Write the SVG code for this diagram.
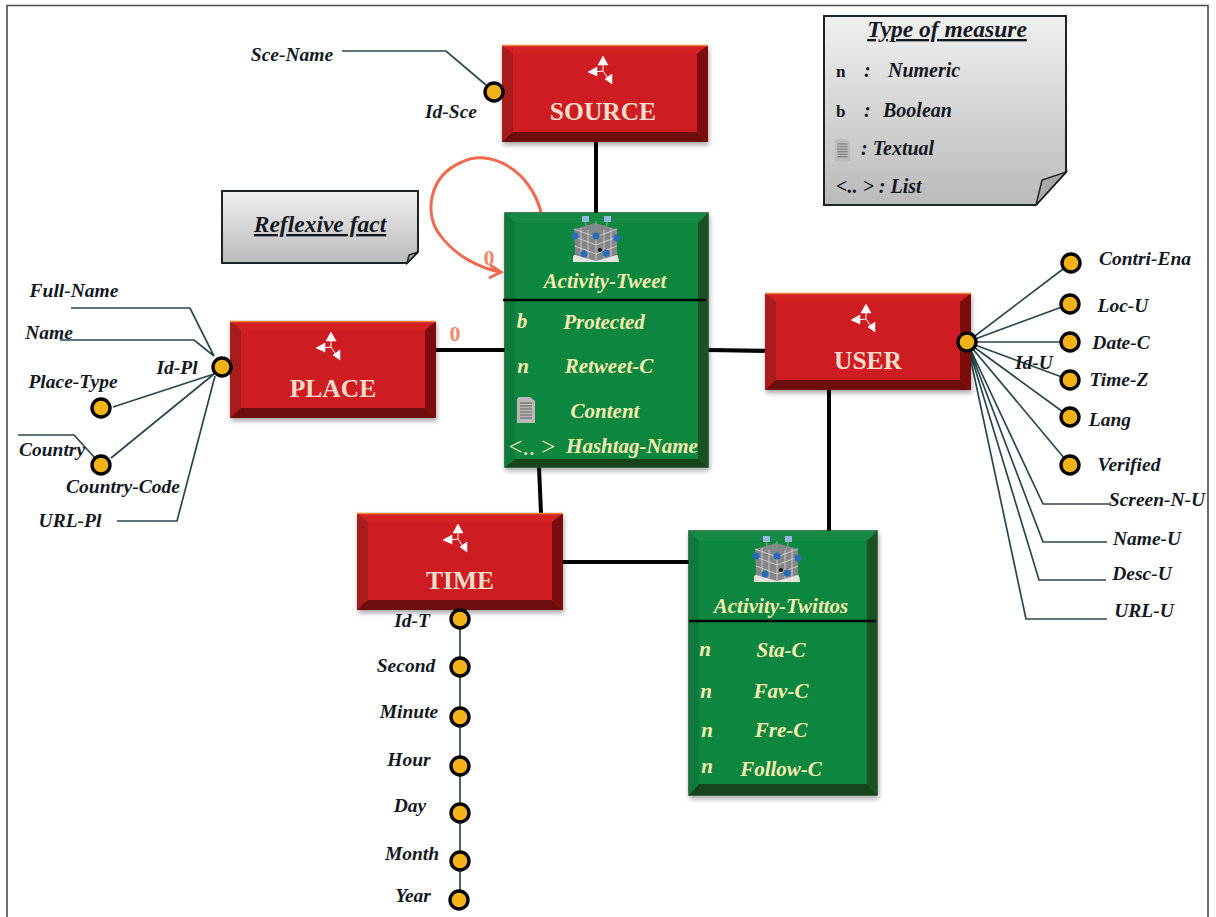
<svg xmlns="http://www.w3.org/2000/svg" width="1216" height="917" viewBox="0 0 1216 917">
<style>
text{font-family:"Liberation Serif","Times New Roman",serif;font-weight:bold;font-style:italic;text-anchor:middle}
.lb{font-size:19.5px;fill:#14191f}
.gt{font-size:21px;fill:#f6ecaf}
.ti{font-size:25.500px;font-style:normal;fill:#f5dccb}
.lg{font-size:20px;fill:#14191f;text-anchor:start}
.hd{font-size:23.500px;fill:#14191f;text-decoration:underline}
.zero{font-size:22px;font-style:normal;fill:#f0866a}
.thin{fill:none;stroke:#27474f;stroke-width:1.7}
.heavy{fill:none;stroke:#050505;stroke-width:4}
.c{fill:#f3b318;stroke:#050505;stroke-width:3.4}
.note{fill:url(#ng);stroke:#1e2426;stroke-width:2}
.fold{fill:#a9a9a9;stroke:#1e2426;stroke-width:1.5}
</style>
<defs>
<linearGradient id="ng" x1="0" y1="0" x2="0" y2="1"><stop offset="0" stop-color="#f0f0f0"/><stop offset="1" stop-color="#bababa"/></linearGradient>
<filter id="sh" x="-5%" y="-5%" width="112%" height="112%"><feDropShadow dx="1" dy="3" stdDeviation="2.5" flood-color="#000" flood-opacity=".35"/></filter>
<g id="axes" fill="#fff" stroke="#fff">
<path d="M0 0V-8M0 0L-9 1M0 0L6 9" fill="none" stroke-width="1"/>
<path d="M0-15L5-6H-5Z" stroke-width=".5"/>
<path d="M-15 1L-6-4V5Z" stroke-width=".5"/>
<path d="M9 13L2 8 9 3Z" stroke-width=".5"/>
</g>
<g id="red" filter="url(#sh)">
<rect width="206" height="97" fill="#cd1f24"/>
<path d="M0 0H206L195 9H11Z" fill="#d32023"/>
<path d="M0 0L11 9V87L0 97Z" fill="#a81a1e"/>
<path d="M206 0L195 9V87L206 97Z" fill="#7b1111"/>
<path d="M0 97L11 87H195L206 97Z" fill="#6e0c0c"/>
<path d="M0 .5H206" stroke="#f0853a" stroke-width="1.5"/>
<use href="#axes" x="101" y="26"/>
</g>
<g id="cube">
<path d="M1 40Q8 34 16 35H40Q47 37 47 46H1Z" fill="#e3e3df"/>
<path d="M2 13L23 7 45 13V39L24 45 3 39Z" fill="#85858a"/>
<path d="M2 13L24 21 45 13M24 21V45M3 21L24 29 45 21M3 30L24 38 45 30M9 12V41M16 14V43M32 14V43M39 12V41" fill="none" stroke="#c9c9c9" stroke-width="1"/>
<path d="M14 12L13 3M24 14V5M34 12L36 3" stroke="#6fa36f" stroke-width="1.5"/>
<rect x="10" y="0" width="7" height="6" fill="#8fb8dc"/><rect x="32" y="0" width="7" height="6" fill="#8fb8dc"/>
<g fill="#2a6db5"><circle cx="3" cy="20" r="3.6"/><circle cx="45" cy="22" r="3.6"/><circle cx="24" cy="20" r="3.6"/><circle cx="12" cy="38" r="3.6"/><circle cx="34" cy="37" r="3.6"/></g>
<circle cx="28" cy="34" r="2" fill="#111"/>
</g>
<g id="doc">
<path d="M3 0H14L19 4V26H1V2Z" fill="#b9bab7"/>
<path d="M4 6H16M4 9H16M4 12H16M4 15H16M4 18H16M4 21H16" stroke="#5d5f5f" stroke-width="1.2"/>
</g>
</defs>
<rect width="1216" height="917" fill="#fff"/>
<path d="M7 917V5.500H1208V917" fill="none" stroke="#4a4a4a" stroke-width="1.600"/>

<g id="connectors">
<path class="heavy" d="M596 142V213M436 350H505M708 350L772 351M539 467L541 513M829 390V531M563 562H689"/>
<path class="thin" d="M342 51H446L486 85"/>
<path class="thin" d="M71 308H190L214 356M60 340H194L214 356M113 407L214 374M111 458L214 374M18 435H74L95 458M117 521H177L215 376"/>
<path class="thin" d="M967 342L1071 263M967 342L1070 304M967 342H1070M967 342L1070 380M967 342L1070 417M967 342L1070 465M967 342L1043 504H1109M967 342L1043 542H1107M967 342L1039 580H1106M967 342L1026 619H1107"/>
<path class="thin" d="M460 619V900"/>
<path d="M541 212C530 170 490 148 462 162C428 176 424 215 440 235C455 256 480 268 500 272M490 265L501 272 489 278" fill="none" stroke="#ef6a4e" stroke-width="3"/>
</g>

<g id="reflexive-note">
<path class="note" d="M222 191H418V252L407 263H222Z"/>
<path class="fold" d="M407 263L409 255 418 252Z"/>
<text class="hd" x="320" y="232">Reflexive fact</text>
</g>
<g id="legend">
<path class="note" d="M824 16H1066V172L1036 205H824Z"/>
<path class="fold" d="M1036 205L1042 180 1066 172Z"/>
<text class="hd" x="947" y="37">Type of measure</text>
<text class="lg" x="836" y="77" style="font-style:normal;font-size:17px">n</text>
<text class="lg" x="864" y="77">:</text>
<text class="lg" x="888" y="77">Numeric</text>
<text class="lg" x="836" y="117" style="font-style:normal;font-size:17px">b</text>
<text class="lg" x="864" y="117">:</text>
<text class="lg" x="883" y="117">Boolean</text>
<use href="#doc" transform="translate(834 139) scale(.85)" opacity=".8"/>
<text class="lg" x="861" y="155">: Textual</text>
<text class="lg" x="836" y="193">&lt;.. &gt; : List</text>
</g>

<g id="source"><use href="#red" x="502" y="45"/><text class="ti" x="603" y="120">SOURCE</text></g>
<g id="place"><use href="#red" x="230" y="321"/><text class="ti" x="333" y="397">PLACE</text></g>
<g id="user"><use href="#red" x="765" y="293"/><text class="ti" x="868" y="369">USER</text></g>
<g id="time"><use href="#red" x="357" y="513"/><text class="ti" x="460" y="589">TIME</text></g>

<g id="activity-tweet">
<g filter="url(#sh)">
<rect x="505" y="213" width="203" height="254" fill="#108741" stroke="#1c4d26" stroke-width="1.500"/>
<path d="M505 213H708L698 223H515Z" fill="#138a44"/>
<path d="M708 213L698 223V459L708 467Z" fill="#1d5127"/>
<path d="M505 467L515 459H698L708 467Z" fill="#17451f"/>
<path d="M505 213L515 223V459L505 467Z" fill="#0e7a3a"/>
</g>
<use href="#cube" x="572" y="216"/>
<text class="gt" x="605" y="288">Activity-Tweet</text>
<path d="M503 300H706" stroke="#050505" stroke-width="2.500"/>
<text class="gt" x="522" y="328">b</text><text class="gt" x="604" y="329">Protected</text>
<text class="gt" x="523" y="373">n</text><text class="gt" x="609" y="373">Retweet-C</text>
<use href="#doc" x="516" y="397"/>
<text class="gt" x="605" y="418">Content</text>
<text class="gt" x="532" y="455" style="font-style:normal;font-weight:normal;font-size:25px">&lt;.. &gt;</text>
<text class="gt" x="632" y="453">Hashtag-Name</text>
</g>

<g id="activity-twittos">
<g filter="url(#sh)">
<rect x="689" y="531" width="188" height="264" fill="#108741" stroke="#1c4d26" stroke-width="1.500"/>
<path d="M689 531H877L867 541H699Z" fill="#138a44"/>
<path d="M877 531L867 541V784L877 795Z" fill="#1d5127"/>
<path d="M689 795L699 784H867L877 795Z" fill="#17451f"/>
<path d="M689 531L699 541V784L689 795Z" fill="#0e7a3a"/>
</g>
<use href="#cube" x="753" y="536"/>
<text class="gt" x="781" y="613">Activity-Twittos</text>
<path d="M689 621H876" stroke="#050505" stroke-width="2.500"/>
<text class="gt" x="705" y="656">n</text><text class="gt" x="781" y="657">Sta-C</text>
<text class="gt" x="706" y="698">n</text><text class="gt" x="781" y="698">Fav-C</text>
<text class="gt" x="707" y="737">n</text><text class="gt" x="781" y="737">Fre-C</text>
<text class="gt" x="707" y="773">n</text><text class="gt" x="781" y="776">Follow-C</text>
</g>

<text class="zero" x="489" y="265">0</text>
<text class="zero" x="455" y="341">0</text>

<g id="source-attrs">
<circle class="c" cx="494" cy="92" r="9"/>
<text class="lb" x="292" y="61">Sce-Name</text><text class="lb" x="451" y="118">Id-Sce</text>
</g>
<g id="place-attrs">
<circle class="c" cx="222" cy="367" r="9"/><circle class="c" cx="101" cy="408" r="9"/><circle class="c" cx="101" cy="465" r="9"/>
<text class="lb" x="74" y="297">Full-Name</text><text class="lb" x="49" y="339">Name</text><text class="lb" x="177" y="374">Id-Pl</text>
<text class="lb" x="73" y="388">Place-Type</text><text class="lb" x="52" y="456">Country</text><text class="lb" x="123" y="493">Country-Code</text><text class="lb" x="70" y="527">URL-Pl</text>
</g>
<g id="user-attrs">
<circle class="c" cx="967" cy="342" r="9"/><circle class="c" cx="1071" cy="263" r="9"/><circle class="c" cx="1070" cy="304" r="9"/><circle class="c" cx="1070" cy="342" r="9"/><circle class="c" cx="1070" cy="380" r="9"/><circle class="c" cx="1070" cy="417" r="9"/><circle class="c" cx="1070" cy="465" r="9"/>
<text class="lb" x="1145" y="265">Contri-Ena</text><text class="lb" x="1123" y="312">Loc-U</text><text class="lb" x="1121" y="349">Date-C</text><text class="lb" x="1119" y="386">Time-Z</text><text class="lb" x="1110" y="426">Lang</text><text class="lb" x="1129" y="471">Verified</text>
<text class="lb" x="1157" y="506">Screen-N-U</text><text class="lb" x="1147" y="545">Name-U</text><text class="lb" x="1142" y="580">Desc-U</text><text class="lb" x="1144" y="617">URL-U</text><text class="lb" x="1034" y="369">Id-U</text>
</g>
<g id="time-attrs">
<circle class="c" cx="460" cy="619" r="9"/><circle class="c" cx="460" cy="667" r="9"/><circle class="c" cx="460" cy="717" r="9"/><circle class="c" cx="460" cy="766" r="9"/><circle class="c" cx="460" cy="813" r="9"/><circle class="c" cx="460" cy="861" r="9"/><circle class="c" cx="459" cy="900" r="9"/>
<text class="lb" x="412" y="627">Id-T</text><text class="lb" x="406" y="672">Second</text><text class="lb" x="409" y="718">Minute</text><text class="lb" x="409" y="766">Hour</text><text class="lb" x="410" y="812">Day</text><text class="lb" x="412" y="860">Month</text><text class="lb" x="413" y="902">Year</text>
</g>
</svg>
